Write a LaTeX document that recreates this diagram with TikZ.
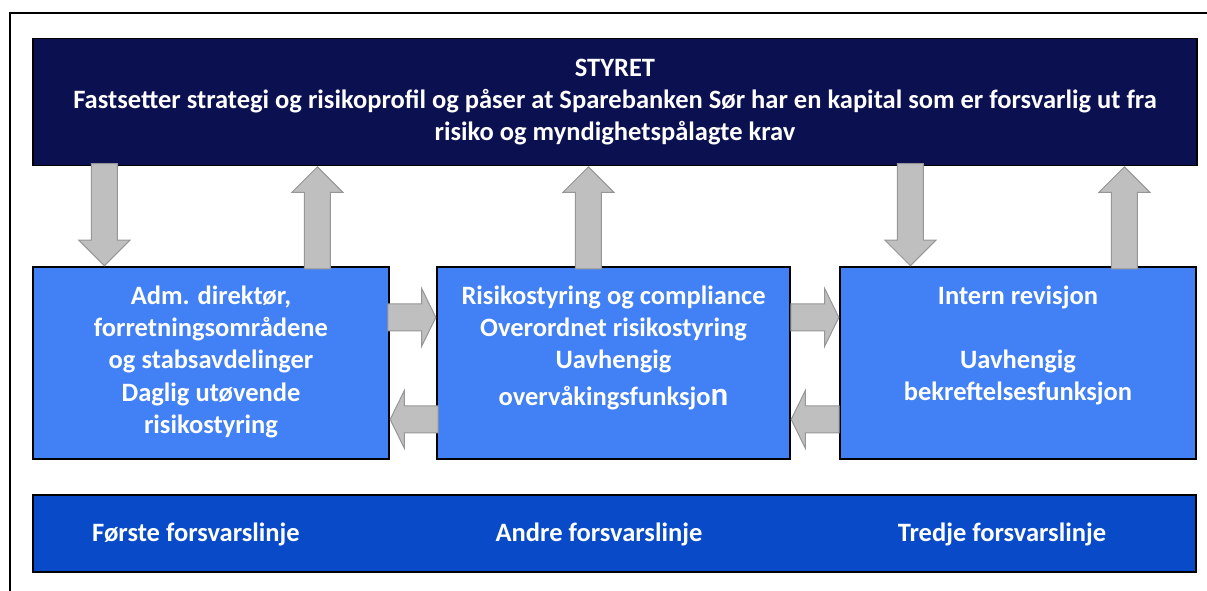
\documentclass[tikz,border=0pt]{standalone}
\usepackage{fontspec}
\setmainfont{Carlito}
\usetikzlibrary{shapes.arrows}

\definecolor{styreblaa}{RGB}{11,17,80}
\definecolor{linjeblaa}{RGB}{66,128,245}
\definecolor{bunnblaa}{RGB}{8,74,200}
\definecolor{pilgraa}{RGB}{191,191,191}
\definecolor{pilkant}{RGB}{150,150,150}

\tikzset{
  boks/.style={draw=black, line width=1.2pt, inner sep=0pt},
  tekst/.style={text=white, font=\bfseries\fontsize{26.5}{32.3}\selectfont, align=center, inner sep=0pt},
  pil/.style={single arrow, draw=pilkant, fill=pilgraa, line width=1pt, inner xsep=0pt},
  % vertical arrows between the board and the three lines
  vpil/.style={pil, inner ysep=12.5pt, minimum height=102pt,
    single arrow head extend=12.5pt, single arrow tip angle=90},
  % short arrows between the lines
  hpil/.style={pil, inner ysep=13pt, minimum height=48pt,
    single arrow head extend=15.5pt, single arrow tip angle=127.7},
}

\begin{document}
\begin{tikzpicture}[x=1pt, y=-1pt]
\useasboundingbox (0,0) rectangle (1207,590);
% outer frame
\draw[line width=1.5pt] (10,600) -- (10,13) -- (1220,13);

\node[boks, fill=styreblaa, minimum width=1164pt, minimum height=127pt, tekst] (styret) at (615,102)
  {STYRET\\Fastsetter strategi og risikoprofil og påser at Sparebanken Sør har en kapital som er forsvarlig ut fra\\risiko og myndighetspålagte krav};

\node[boks, fill=linjeblaa, minimum width=356pt, minimum height=192pt] (lin1) at (211,363) {};
\node[boks, fill=linjeblaa, minimum width=353pt, minimum height=192pt] (lin2) at (613.5,363) {};
\node[boks, fill=linjeblaa, minimum width=356pt, minimum height=192pt] (lin3) at (1018,363) {};

\node[tekst, anchor=north] (txt1) at ([yshift=-19pt]lin1.north)
  {Adm. direktør,\\forretningsområdene\\og stabsavdelinger\\Daglig utøvende\\risikostyring};
\node[tekst, anchor=north] (txt2) at ([yshift=-19pt]lin2.north)
  {Risikostyring og compliance\\Overordnet risikostyring\\Uavhengig\\[4pt]overvåkingsfunksjo{\fontsize{33}{32}\selectfont n}};
\node[tekst, anchor=north] (txt3) at ([yshift=-19pt]lin3.north)
  {Intern revisjon\\[32pt]Uavhengig\\bekreftelsesfunksjon};

% arrows up and down
\node[vpil, rotate=-90, anchor=tip] (ned1) at ([xshift=72pt]lin1.north west) {};
\node[vpil, rotate=90, anchor=tip] (opp1) at ([xshift=285pt]styret.south west) {};
\node[vpil, rotate=90, anchor=tip] (opp2) at ([xshift=556pt]styret.south west) {};
\node[vpil, rotate=-90, anchor=tip] (ned3) at ([xshift=71pt]lin3.north west) {};
\node[vpil, rotate=90, anchor=tip] (opp3) at ([xshift=1092pt]styret.south west) {};

% arrows between the lines
\node[hpil, anchor=tip] (hoyre1) at ([yshift=-51pt]lin2.north west) {};
\node[hpil, rotate=180, anchor=tip] (venstre1) at ([yshift=-153pt]lin1.north east) {};
\node[hpil, anchor=tip] (hoyre2) at ([yshift=-51pt]lin3.north west) {};
\node[hpil, rotate=180, anchor=tip] (venstre2) at ([yshift=-153pt]lin2.north east) {};

\node[boks, fill=bunnblaa, minimum width=1163pt, minimum height=77pt] (bunn) at (614.5,533.5) {};
\node[tekst, anchor=base] (f1) at (196,541) {Første forsvarslinje};
\node[tekst, anchor=base] (f2) at (599,541) {Andre forsvarslinje};
\node[tekst, anchor=base] (f3) at (1002,541) {Tredje forsvarslinje};
\end{tikzpicture}
\end{document}
